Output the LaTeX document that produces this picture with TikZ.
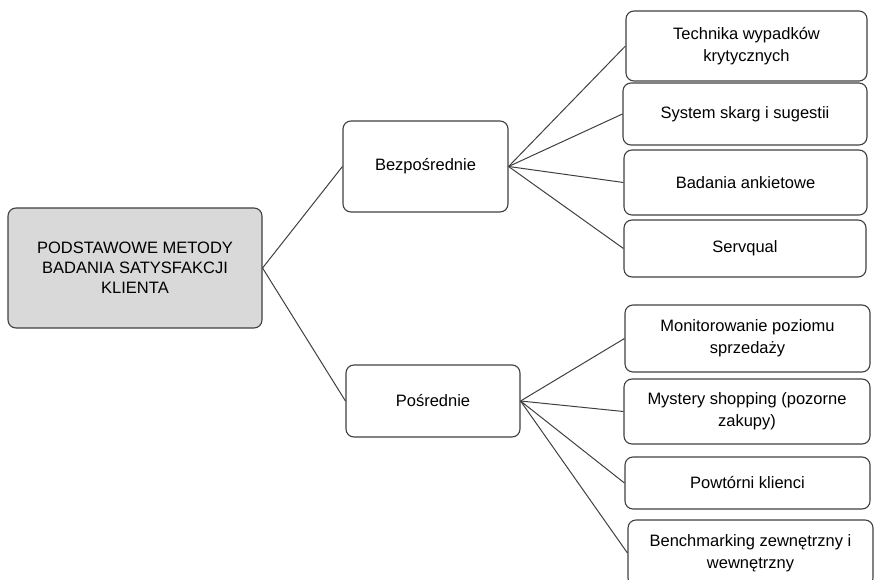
\documentclass[tikz,border=0pt]{standalone}
\usepackage{fontspec}
\setmainfont{Liberation Sans}
\usetikzlibrary{positioning}

\tikzset{
  box/.style={draw=black!75, line width=1.1pt, rounded corners=8pt, fill=white,
    align=center, inner sep=0pt, font=\fontsize{16.5}{22}\selectfont},
  rootbox/.style={box, fill=black!15, font=\fontsize{16.5}{20}\selectfont},
  link/.style={draw=black!75, line width=1pt}
}

\begin{document}
\begin{tikzpicture}[x=1pt,y=-1pt]
  \useasboundingbox (0,0) rectangle (875,580);
  \clip (0,0) rectangle (875,580);
  % root and the two groups
  \node[rootbox, minimum width=254pt, minimum height=120pt] (root) at (135,268)
    {PODSTAWOWE METODY\\BADANIA SATYSFAKCJI\\KLIENTA};
  \node[box, minimum width=165pt, minimum height=91pt] (bez) at (425.5,166.5) {Bezpośrednie};
  \node[box, minimum width=174pt, minimum height=72pt] (pos) at (433,401) {Pośrednie};
  % methods, direct
  \node[box, minimum width=241pt, minimum height=70pt] (tech) at (746.5,46) {Technika wypadków\\krytycznych};
  \node[box, minimum width=244pt, minimum height=62pt] (skarg) at (745,114) {System skarg i sugestii};
  \node[box, minimum width=243pt, minimum height=65pt] (ankiet) at (745.5,182.5) {Badania ankietowe};
  \node[box, minimum width=242pt, minimum height=57pt] (servq) at (745,248.5) {Servqual};
  % methods, indirect
  \node[box, minimum width=245pt, minimum height=67pt] (monit) at (747.5,338.5) {Monitorowanie poziomu\\sprzedaży};
  \node[box, minimum width=246pt, minimum height=65pt] (myst) at (747,411.5) {Mystery shopping (pozorne\\zakupy)};
  \node[box, minimum width=245pt, minimum height=52pt] (powt) at (747.5,483) {Powtórni klienci};
  \node[box, minimum width=245pt, minimum height=66pt] (bench) at (750.5,553) {Benchmarking zewnętrzny i\\wewnętrzny};

  \path[link]
    (root.east) edge (bez.west)
                edge (pos.west)
    (bez.east) edge (tech.west)
               edge (skarg.west)
               edge (ankiet.west)
               edge (servq.west)
    (pos.east) edge (monit.west)
               edge (myst.west)
               edge (powt.west)
               edge (bench.west);
\end{tikzpicture}
\end{document}
